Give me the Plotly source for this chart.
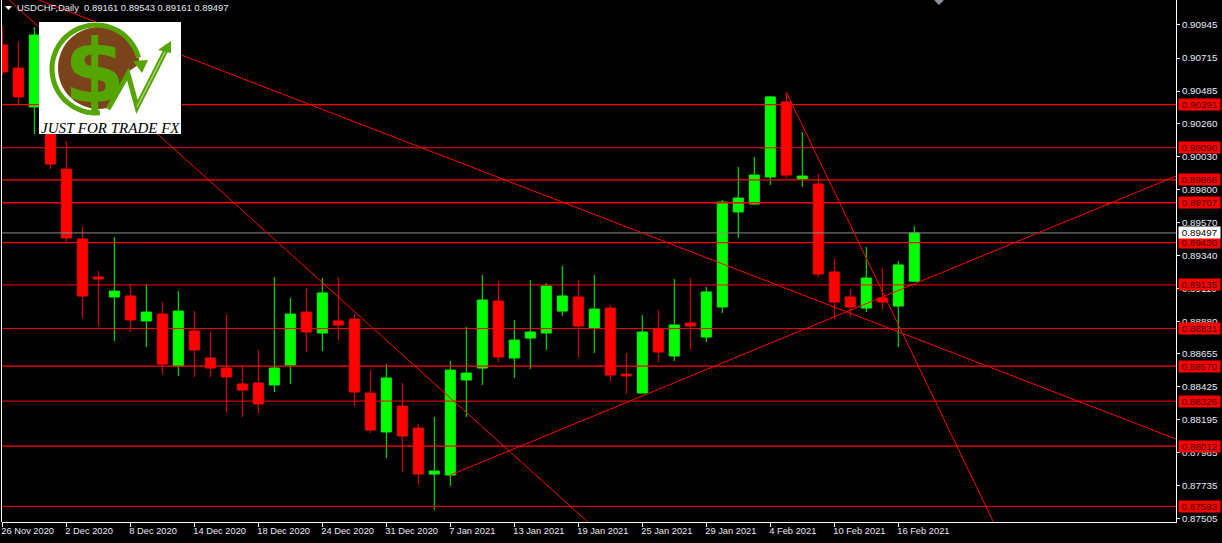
import numpy as np
import plotly.graph_objects as go

opens = [.90806,.90645,.90374,.90381,.89942,.89455,.89190,.89051,.89058,.88884,
         .88932,.88570,.88814,.88626,.88556,.88445,.88452,.88438,.88577,.88946,
         .88800,.88884,.88897,.88382,.88111,.88292,.88138,.87818,.87811,.88473,
         .88556,.89023,.88626,.88765,.88800,.88953,.89051,.88835,.88974,.88514,
         .88382,.88828,.88640,.88870,.88772,.88981,.89643,.89698,.89886,.90409,
         .89872,.89838,.89225,.89051,.88974,.89044,.88988,.89161]
highs = [.90938,.90827,.90931,.90423,.90137,.89538,.89232,.89469,.89141,.89141,
         .89016,.89092,.88953,.88807,.88925,.88577,.88682,.89190,.89044,.89113,
         .89183,.89190,.88932,.88542,.88584,.88452,.88166,.88215,.88605,.88842,
         .89204,.89162,.88891,.89169,.89148,.89267,.89169,.89204,.88995,.88661,
         .88925,.88960,.89176,.89183,.89120,.89726,.89956,.90026,.90450,.90478,
         .90200,.89907,.89315,.89106,.89399,.89253,.89301,.89543]
lows = [.90597,.90395,.90186,.89942,.89434,.88904,.88849,.88744,.88807,.88702,
        .88514,.88501,.88494,.88494,.88250,.88215,.88243,.88389,.88445,.88668,
        .88675,.88751,.88292,.88104,.87929,.87832,.87748,.87567,.87735,.88215,
        .88438,.88598,.88487,.88549,.88682,.88918,.88633,.88661,.88466,.88375,
        .88382,.88598,.88605,.88689,.88737,.88939,.89462,.89698,.89831,.89879,
        .89817,.89190,.88897,.88911,.88946,.88967,.88702,.89161]
closes = [.90618,.90444,.90875,.89977,.89462,.89058,.89176,.89092,.88891,.88946,
          .88584,.88953,.88682,.88556,.88494,.88403,.88306,.88556,.88932,.88807,
          .89079,.88856,.88389,.88124,.88487,.88083,.87818,.87839,.88542,.88521,
          .89030,.88633,.88751,.88807,.89127,.89058,.88849,.88967,.88507,.88501,
          .88807,.88668,.88856,.88849,.89086,.89712,.89740,.89900,.90444,.89900,
          .89893,.89211,.89016,.88981,.89183,.89016,.89274,.89497]

date_tick_bars = [0, 4, 8, 12, 16, 20, 24, 28, 32, 36, 40, 44, 48, 52, 56]
date_tick_labels = ["26 Nov 2020", "2 Dec 2020", "8 Dec 2020", "14 Dec 2020", "18 Dec 2020",
                    "24 Dec 2020", "31 Dec 2020", "7 Jan 2021", "13 Jan 2021", "19 Jan 2021",
                    "25 Jan 2021", "29 Jan 2021", "4 Feb 2021", "10 Feb 2021", "16 Feb 2021"]
price_ticks = [.90945, .90715, .90485, .90260, .90030, .89800, .89570, .89340,
               .89110, .88880, .88655, .88425, .88195, .87965, .87735, .87505]
levels_thick = [.90391, .89866, .89707, .89430, .88570, .88012]
levels_thin = [.90090, .89135, .88831, .88326, .87593]
badge_levels = [.90391, .90090, .89866, .89707, .89430, .89135, .88831, .88570, .88326, .88012, .87593]
current_price = .89497
trend_a_x, trend_a_y = [2.29, 73.36], [.91119, .88062]
trend_b_x, trend_b_y = [0.42, 36.6], [.91119, .87484]
trend_c_x, trend_c_y = [28, 73.36], [.87811, .89893]
trend_d_x, trend_d_y = [49, 61.95], [.90478, .87484]

W, H = 1222, 543
L, R, T, B = 2, 1176, 0, 522
X_RANGE = [-0.02, 73.36]
Y_RANGE = [.87484, .91119]
FONT = "Liberation Sans"
TXT = "#e6ecf5"
RED, GREEN = "#ff0000", "#00ff00"

px = lambda x: (x - L) / (R - L)
py = lambda y: 1 - (y - T) / (B - T)

fig = go.Figure()
xs = list(range(len(opens)))
fig.add_trace(go.Candlestick(
    x=xs, open=opens, high=highs, low=lows, close=closes,
    increasing=dict(line=dict(color=GREEN, width=1), fillcolor=GREEN),
    decreasing=dict(line=dict(color=RED, width=1), fillcolor=RED),
    whiskerwidth=0, hoverinfo="skip", showlegend=False))

def hline(level, width, color=RED):
    fig.add_trace(go.Scatter(x=X_RANGE, y=[level, level], mode="lines",
                             line=dict(color=color, width=width),
                             hoverinfo="skip", showlegend=False))

hline(current_price, 1, "#8c8c8c")
for v in levels_thick:
    hline(v, 1.3)
for v in levels_thin:
    hline(v, 1)
for tx, ty in [(trend_a_x, trend_a_y), (trend_b_x, trend_b_y), (trend_c_x, trend_c_y), (trend_d_x, trend_d_y)]:
    fig.add_trace(go.Scatter(x=tx, y=ty, mode="lines", line=dict(color=RED, width=1),
                             hoverinfo="skip", showlegend=False))

shapes = []
def path(points, close=True):
    s = "M" + " L".join(f"{px(x):.5f},{py(y):.5f}" for x, y in points)
    return s + (" Z" if close else "")
def poly(points, fill):
    shapes.append(dict(type="path", xref="paper", yref="paper", path=path(points),
                       fillcolor=fill, line=dict(width=0), layer="above"))
def stroke(points, color, width):
    shapes.append(dict(type="path", xref="paper", yref="paper", path=path(points, False),
                       line=dict(color=color, width=width), layer="above"))
def arc(cx, cy, r, a0, a1, n=60):
    t = np.radians(np.linspace(a0, a1, n))
    return list(zip(cx + r * np.cos(t), cy + r * np.sin(t)))

# frame and small chart marks
stroke([(1.5, 0), (1.5, 522)], "#ffffff", 1)
poly([(5, 6), (12, 6), (8.5, 10)], "#ffffff")
poly([(934, 0), (944, 0), (939, 5)], "#8a8f98")

# logo
LG, LGL, BR = "#55a500", "#a8d080", "#7a431b"
poly([(39, 22), (181, 22), (181, 134), (39, 134)], "#ffffff")
poly(arc(99, 68, 41, 0, 360), BR)
poly([(108, 112), (128, 72), (142, 62), (146, 112)], "#ffffff")
stroke(arc(96, 69, 44, 85, 345), LG, 5)
poly([(133, 61), (148, 60), (142, 73)], LG)
W_pts = [(108, 109), (128, 74), (137, 107), (168, 46)]
stroke(W_pts, LG, 5)
stroke(W_pts[2:], LGL, 1.5)
poly([(171, 41), (158, 50), (171, 53)], LG)
fig.update_layout(shapes=shapes)

ann = [
    dict(x=px(15), y=py(7.5), text="USDCHF,Daily  0.89161 0.89543 0.89161 0.89497",
         font=dict(family=FONT, size=9.45, color=TXT), xanchor="left"),
    dict(x=px(94), y=py(70), text="<b>$</b>", font=dict(family="DejaVu Sans", size=88, color=LG), xanchor="center"),
    dict(x=px(110), y=py(128), text="<i>JUST FOR TRADE FX</i>",
         font=dict(family="Liberation Serif", size=15, color="#000000"), xanchor="center"),
]
ann = [dict(a, xref="paper", yref="paper", yanchor="middle", showarrow=False) for a in ann]
for v in badge_levels:
    ann.append(dict(x=px(1178), xref="paper", y=v, yref="y", text=f"{v:.5f}", showarrow=False,
                    xanchor="left", yanchor="middle", width=41, height=10.5, borderpad=0, bgcolor=RED,
                    font=dict(family=FONT, size=9.8, color="#3a0000")))
ann.append(dict(x=px(1178), xref="paper", y=current_price, yref="y", text=f"{current_price:.5f}",
                showarrow=False, xanchor="left", yanchor="middle", width=41, height=10.5, borderpad=0,
                bgcolor="#ffffff", font=dict(family=FONT, size=9.8, color="#000000")))

fig.update_layout(
    width=W, height=H, autosize=False,
    margin=dict(l=L, r=W - R, t=T, b=H - B, pad=0),
    paper_bgcolor="#000000", plot_bgcolor="#000000",
    boxgap=0.375, boxgroupgap=0, showlegend=False, annotations=ann,
    xaxis=dict(range=X_RANGE, rangeslider=dict(visible=False), showgrid=False, zeroline=False,
               showline=True, linecolor="#ffffff", linewidth=1, ticks="outside", ticklen=4,
               tickcolor="#ffffff", tickwidth=1, tickvals=date_tick_bars, ticktext=date_tick_labels,
               ticklabelposition="outside right", ticklabelshift=-2, tickangle=0,
               tickfont=dict(family=FONT, size=9.3, color=TXT)),
    yaxis=dict(range=Y_RANGE, side="right", showgrid=False, zeroline=False, showline=True,
               linecolor="#ffffff", linewidth=1, ticks="outside", ticklen=3, tickcolor="#ffffff",
               tickwidth=1, tickvals=price_ticks, ticktext=[f"{v:.5f}" for v in price_ticks],
               tickfont=dict(family=FONT, size=9.8, color=TXT)),
)
fig.write_html("out.html", config=dict(displayModeBar=False),
               post_script="document.body.style.margin='0';document.documentElement.style.background='#000';document.documentElement.style.overflow='hidden';")
